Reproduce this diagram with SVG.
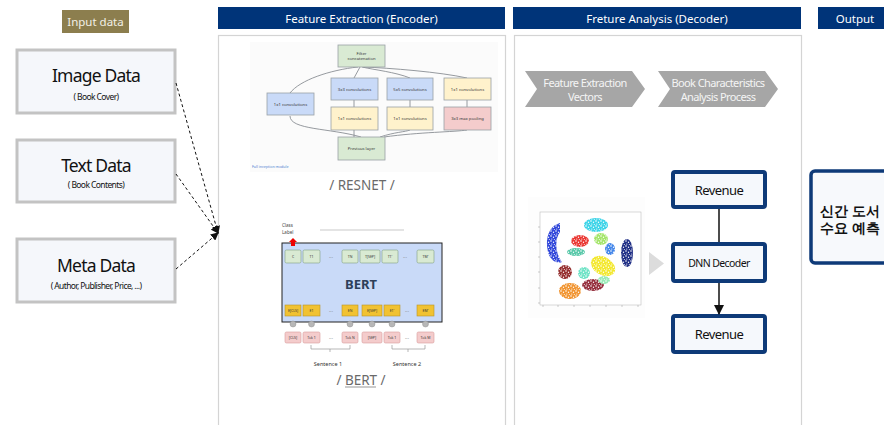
<svg xmlns="http://www.w3.org/2000/svg" width="884" height="425" viewBox="0 0 884 425">
<style>
text{font-family:"Noto Sans","Open Sans","Liberation Sans",sans-serif}
.hdr{fill:#003479}
.hdrt{fill:#ffffff;font-size:11.5px;text-anchor:middle}
.panel{fill:#ffffff;stroke:#d4d4d4;stroke-width:1.2}
.inbox{fill:#f5f7fb;stroke:#c3c3c3;stroke-width:3}
.ttl{font-size:17.5px;fill:#111;text-anchor:middle;letter-spacing:-0.8px}
.sub{font-size:8.5px;fill:#111;text-anchor:middle;letter-spacing:-0.6px}
.dash{fill:none;stroke:#111;stroke-width:1;stroke-dasharray:3 2.5}
.ib{stroke:#9aa0a6;stroke-width:0.8}
.g{fill:#d9ead3}.b{fill:#c9daf8}.y{fill:#fff2cc}.p{fill:#f4cccc}
.it{font-size:4.2px;fill:#333;text-anchor:middle}
.il{fill:none;stroke:#8a8f94;stroke-width:0.9}
.cap{font-size:13.5px;fill:#6a6a6a;text-anchor:middle}
.chev{fill:#a6a6a6}
.chevt{font-size:11px;fill:#f4f4f4;text-anchor:middle;letter-spacing:-0.6px}
.rev{fill:#f5f8fc;stroke:#0e3a78;stroke-width:4}
.revt{font-size:13px;fill:#111;text-anchor:middle;letter-spacing:-0.6px}
.bx{font-size:3.5px;fill:#333;text-anchor:middle}
</style>
<defs>
<marker id="ah" markerWidth="8" markerHeight="8" refX="7" refY="4" orient="auto" markerUnits="userSpaceOnUse">
<path d="M0,0 L8,4 L0,8 z" fill="#111"/>
</marker>
<marker id="ah2" markerWidth="10" markerHeight="10" refX="9" refY="5" orient="auto" markerUnits="userSpaceOnUse">
<path d="M0,0 L10,5 L0,10 z" fill="#111"/>
</marker>
<pattern id="speck" width="5" height="5" patternUnits="userSpaceOnUse">
<circle cx="1" cy="1" r="0.8" fill="#fff"/><circle cx="3.5" cy="2.2" r="0.7" fill="#fff"/><circle cx="1.8" cy="4" r="0.6" fill="#fff"/><circle cx="4.3" cy="4.4" r="0.5" fill="#fff"/>
</pattern>
</defs>
<rect width="884" height="425" fill="#ffffff"/>

<!-- headers -->
<g id="input-header"><rect x="62" y="10" width="67" height="23" fill="#8c7e4e"/><text x="95.5" y="26" font-size="11.5" fill="#f2f0e6" text-anchor="middle">Input data</text></g>
<g id="encoder-header"><rect class="hdr" x="218" y="7" width="287" height="22"/><text class="hdrt" x="361.5" y="22.5">Feature Extraction (Encoder)</text></g>
<g id="decoder-header"><rect class="hdr" x="513" y="7" width="288" height="22"/><text class="hdrt" x="657" y="22.5">Freture Analysis (Decoder)</text></g>
<g id="output-header"><rect class="hdr" x="818" y="7" width="70" height="22"/><text class="hdrt" x="855" y="22.5">Output</text></g>

<!-- panels -->
<rect class="panel" x="218.5" y="35.5" width="287" height="395"/>
<rect class="panel" x="514.5" y="35.5" width="287" height="395"/>

<!-- input nodes -->
<g id="image-data"><rect class="inbox" x="17" y="50" width="158" height="63"/><text class="ttl" x="96" y="82">Image Data</text><text class="sub" x="96" y="100">( Book Cover)</text></g>
<g id="text-data"><rect class="inbox" x="17" y="140" width="158" height="62"/><text class="ttl" x="96" y="172">Text Data</text><text class="sub" x="96" y="188">( Book Contents)</text></g>
<g id="meta-data"><rect class="inbox" x="17" y="239" width="158" height="63"/><text class="ttl" x="96" y="272">Meta Data</text><text class="sub" x="96" y="289">( Author, Publisher, Price, ...)</text></g>

<!-- Inception module picture -->
<g id="resnet">
<rect x="250" y="42" width="248" height="130" fill="#fbfbfb"/>
<path class="il" d="M361,137 C330,128 290,130 290,116 M354,137 L354,130 M380,137 C395,132 405,132 410,130 M384,137 C420,132 455,132 467,130 M354,107 L354,100 M410,107 L410,100 M467,107 L467,100 M290,93 C300,80 330,70 358,67 M354,78 L360,67 M410,78 C395,72 375,70 362,67 M467,78 C440,72 390,68 363,67"/>
<rect class="g ib" x="338" y="45" width="47" height="22"/><text class="it" x="361.5" y="55">Filter</text><text class="it" x="361.5" y="60">concatenation</text>
<rect class="b ib" x="267" y="93" width="47" height="22"/><text class="it" x="290.5" y="105.5">1x1 convolutions</text>
<rect class="b ib" x="331" y="78" width="47" height="22"/><text class="it" x="354.5" y="90.5">3x3 convolutions</text>
<rect class="b ib" x="387" y="78" width="46" height="22"/><text class="it" x="410" y="90.5">5x5 convolutions</text>
<rect class="y ib" x="444" y="78" width="47" height="22"/><text class="it" x="467.5" y="90.5">1x1 convolutions</text>
<rect class="y ib" x="331" y="107" width="47" height="23"/><text class="it" x="354.5" y="120">1x1 convolutions</text>
<rect class="y ib" x="387" y="107" width="46" height="23"/><text class="it" x="410" y="120">1x1 convolutions</text>
<rect class="p ib" x="444" y="107" width="47" height="23"/><text class="it" x="467.5" y="120">3x3 max pooling</text>
<rect class="g ib" x="338" y="137" width="47" height="23"/><text class="it" x="361.5" y="150">Previous layer</text>
<text x="252" y="168" font-size="3.6" fill="#4a7bd0">Full inception module</text>
<text class="cap" x="362" y="190">/   RESNET /</text>
</g>

<!-- BERT picture -->
<g id="bert">
<text x="282" y="227" font-size="4.5" fill="#444">Class</text><text x="282" y="234" font-size="4.5" fill="#444">Label</text>
<line x1="320" y1="230" x2="404" y2="230" stroke="#bbb" stroke-width="0.8"/>
<rect x="282" y="243" width="160" height="79" fill="#c9daf8" stroke="#222" stroke-width="1"/>
<path d="M293,238 L297,242 L295,242 L295,246 L291,246 L291,242 L289,242 z" fill="#e00"/>
<g fill="#d9ead3" stroke="#7fa07f" stroke-width="0.6">
<rect x="285" y="250" width="16" height="13" rx="1.5"/><rect x="303" y="250" width="17" height="13" rx="1.5"/>
<rect x="342" y="250" width="16" height="13" rx="1.5"/><rect x="360" y="250" width="20" height="13" rx="1.5"/>
<rect x="382" y="250" width="16" height="13" rx="1.5"/><rect x="417" y="250" width="17" height="13" rx="1.5"/>
</g>
<g class="bx"><text x="293" y="258">C</text><text x="311.5" y="258">T1</text><text x="350" y="258">TN</text><text x="370" y="258">T[SEP]</text><text x="390" y="258">T1'</text><text x="425.5" y="258">TM'</text></g>
<text x="329" y="258" font-size="5" fill="#888">...</text><text x="403" y="258" font-size="5" fill="#888">...</text>
<text x="361" y="289" font-size="13" font-weight="bold" fill="#2d3f5a" text-anchor="middle">BERT</text>
<g fill="#f1c232" stroke="#b8942a" stroke-width="0.6">
<rect x="285" y="305" width="16" height="11"/><rect x="303" y="305" width="17" height="11"/>
<rect x="342" y="305" width="16" height="11"/><rect x="362" y="305" width="20" height="11"/>
<rect x="384" y="305" width="16" height="11"/><rect x="417" y="305" width="17" height="11"/>
</g>
<g class="bx"><text x="293" y="312">E[CLS]</text><text x="311.5" y="312">E1</text><text x="350" y="312">EN</text><text x="372" y="312">E[SEP]</text><text x="392" y="312">E1'</text><text x="425.5" y="312">EM'</text></g>
<text x="329" y="312" font-size="5" fill="#888">...</text><text x="405" y="312" font-size="5" fill="#888">...</text>
<g fill="#b7b7b7" stroke="#888" stroke-width="0.4">
<circle cx="293" cy="324" r="3"/><circle cx="311.5" cy="324" r="3"/><circle cx="350" cy="324" r="3"/><circle cx="372" cy="324" r="3"/><circle cx="392" cy="324" r="3"/><circle cx="425.5" cy="324" r="3"/>
</g>
<g fill="#f4cccc" stroke="#d99a9a" stroke-width="0.6">
<rect x="285" y="332" width="16" height="11" rx="1.5"/><rect x="303" y="332" width="17" height="11" rx="1.5"/>
<rect x="342" y="332" width="16" height="11" rx="1.5"/><rect x="362" y="332" width="20" height="11" rx="1.5"/>
<rect x="384" y="332" width="16" height="11" rx="1.5"/><rect x="417" y="332" width="17" height="11" rx="1.5"/>
</g>
<g class="bx"><text x="293" y="339">[CLS]</text><text x="311.5" y="339">Tok 1</text><text x="350" y="339">Tok N</text><text x="372" y="339">[SEP]</text><text x="392" y="339">Tok 1</text><text x="425.5" y="339">Tok M</text></g>
<text x="329" y="339" font-size="5" fill="#888">...</text><text x="405" y="339" font-size="5" fill="#888">...</text>
<path d="M311,345 L311,349 L350,349 L350,345 M330,349 L330,352 M392,345 L392,349 L425,349 L425,345 M408,349 L408,352" fill="none" stroke="#999" stroke-width="0.7"/>
<text x="328" y="366" font-size="5.5" fill="#333" text-anchor="middle">Sentence 1</text>
<text x="407" y="366" font-size="5.5" fill="#333" text-anchor="middle">Sentence 2</text>
<text class="cap" x="361" y="385">/   BERT /</text>
<line x1="345" y1="387" x2="376" y2="387" stroke="#6a6a6a" stroke-width="0.7"/>
</g>

<!-- decoder chevrons -->
<g id="fe-vectors"><path class="chev" d="M525,71 L632,71 L645,89 L632,107 L525,107 L537,89 z"/><text class="chevt" x="585" y="87">Feature Extraction</text><text class="chevt" x="585" y="101">Vectors</text></g>
<g id="book-analysis"><path class="chev" d="M658,71 L765,71 L778,89 L765,107 L658,107 L670,89 z"/><text class="chevt" x="718" y="87">Book Characteristics</text><text class="chevt" x="718" y="101">Analysis Process</text></g>

<!-- t-SNE picture -->
<g id="tsne">
<rect x="528" y="197" width="117" height="121" fill="#fdfdfd"/>
<rect x="540" y="212" width="101" height="93" fill="#ffffff" stroke="#bfbfbf" stroke-width="0.6"/>
<g stroke="#999" stroke-width="0.5">
<path d="M538,227 h2 M538,242 h2 M538,257 h2 M538,272 h2 M538,288 h2 M538,303 h2 M543,305 v2 M558,305 v2 M574,305 v2 M590,305 v2 M606,305 v2 M622,305 v2 M638,305 v2"/>
</g>
<g opacity="0.9">
<path d="M560,223 C548,226 545,240 548,252 C550,260 556,264 562,262 C556,255 554,240 560,232 z" fill="#1b34d6"/>
<ellipse cx="596" cy="225" rx="12" ry="7" fill="#2ad0e6"/>
<ellipse cx="580" cy="241" rx="9" ry="6" fill="#e8231e"/>
<ellipse cx="601" cy="239" rx="7" ry="6" fill="#9be35a"/>
<ellipse cx="610" cy="249" rx="5" ry="6" fill="#2f7ae8"/>
<ellipse cx="627" cy="253" rx="6" ry="14" fill="#0a1a7a"/>
<ellipse cx="603" cy="266" rx="13" ry="9" transform="rotate(30 603 266)" fill="#f2e619"/>
<ellipse cx="576" cy="252" rx="9" ry="4" fill="#46c3a0"/>
<ellipse cx="565" cy="272" rx="7" ry="7" fill="#8b1a1a"/>
<ellipse cx="584" cy="273" rx="6" ry="6" fill="#5fe0c0"/>
<ellipse cx="570" cy="291" rx="11" ry="8" fill="#f08a1c"/>
<ellipse cx="593" cy="285" rx="11" ry="6" fill="#8b1a2a"/>
<ellipse cx="604" cy="280" rx="6" ry="4" fill="#8fe8b0"/>
</g>
<rect x="541" y="213" width="99" height="91" fill="url(#speck)"/>
</g>
<g id="gray-triangle"><path d="M649,252 L664,263.5 L649,275 z" fill="#dcdcdc"/></g>

<!-- decoder nodes -->
<g id="revenue-top"><rect class="rev" x="673" y="172" width="92" height="35" rx="2"/><text class="revt" x="719" y="195">Revenue</text></g>
<g id="dnn-decoder"><rect class="rev" x="673" y="244" width="92" height="37" rx="2"/><text x="719" y="267" font-size="10.5" fill="#111" text-anchor="middle" letter-spacing="-0.6">DNN Decoder</text></g>
<g id="revenue-bottom"><rect class="rev" x="673" y="316" width="92" height="36" rx="2"/><text class="revt" x="719" y="339">Revenue</text></g>

<!-- output node -->
<g id="output"><rect x="811" y="171" width="90" height="92" rx="4" fill="#f7f9fc" stroke="#0e3a78" stroke-width="3.5"/><text x="850" y="216" font-size="13.5" font-weight="bold" fill="#111" text-anchor="middle" font-family="'Noto Sans CJK KR',sans-serif">신간 도서</text><text x="850" y="233" font-size="13.5" font-weight="bold" fill="#111" text-anchor="middle" font-family="'Noto Sans CJK KR',sans-serif">수요 예측</text></g>

<!-- connectors -->
<g id="connectors">
<path class="dash" d="M176,83 L218,233" marker-end="url(#ah)"/>
<path class="dash" d="M176,174 L218,233" marker-end="url(#ah)"/>
<path class="dash" d="M176,269 L218,233" marker-end="url(#ah)"/>
<line x1="719" y1="209" x2="719" y2="242" stroke="#111" stroke-width="1.5"/>
<line x1="719" y1="283" x2="719" y2="314" stroke="#111" stroke-width="1.5" marker-end="url(#ah2)"/>
</g>
</svg>
